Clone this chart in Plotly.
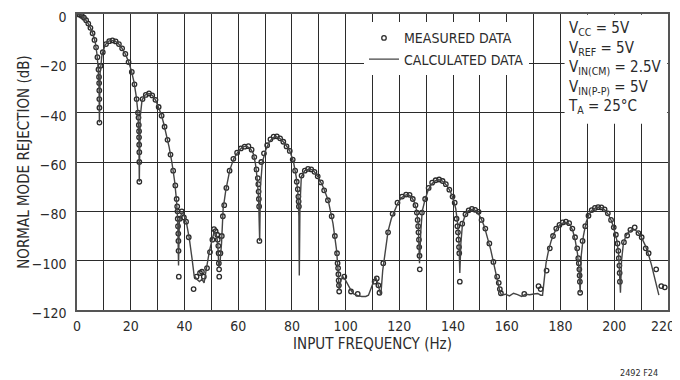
import plotly.graph_objects as go

FONT = "Liberation Sans Narrow, Arial Narrow, DejaVu Sans Condensed, sans-serif"
INK = "#2b2b2b"

# calculated response (Hz, dB), lobe by lobe
calc_freq = [
    0, 1, 2, 3, 4, 5, 6, 6.8, 7.4, 7.9, 8.2, 8.35,
    8.6, 9.3, 10.5, 11.8, 13.0, 14.2, 15.4, 16.6, 17.8, 19.0, 20.2, 21.2, 22.0, 22.6, 23.0, 23.2,
    23.5, 24.2, 25.2, 26.3, 27.3, 28.3, 29.3, 30.3, 31.3, 32.3, 33.3, 34.3, 35.3, 36.3, 37.0, 37.5, 37.8,
    38.1, 39.0, 39.8, 40.8, 41.8, 42.8, 43.6, 44.6, 45.6, 46.5, 47.3, 47.9, 48.6, 49.3, 50.2, 51.0, 51.8, 52.4, 52.8,
    53.3, 53.8, 54.4, 55.4, 56.9, 58.4, 60.0, 61.5, 63.0, 64.5, 65.6, 66.4, 67.1, 67.6, 68.0,
    68.3, 69.0, 70.3, 71.5, 72.8, 74.0, 75.5, 77.3, 79.2, 80.6, 81.6, 82.2, 82.6, 82.75,
    83.0, 83.5, 84.8, 86.6, 87.9, 89.7, 91.6, 93.5, 95.3, 96.6, 97.2, 97.6,
    98.2, 99.0, 100.0, 100.9, 102.0, 103.0, 104.5, 106.0, 107.5, 108.5, 109.5, 110.4, 111.1, 111.8, 112.5, 113.1,
    113.8, 114.6, 115.8, 117.0, 118.3, 119.5, 120.8, 122.0, 123.2, 124.4, 125.5, 126.4, 127.0, 127.5,
    128.0, 128.5, 129.5, 130.7, 131.8, 133.0, 134.2, 135.4, 136.6, 137.8, 139.0, 140.2, 141.0, 141.7, 142.2, 142.5,
    142.9, 143.5, 144.5, 145.6, 146.8, 148.0, 149.2, 150.4, 151.6, 152.8, 154.0, 155.2, 156.4, 157.3, 158.0,
    159.5, 161.0, 162.5, 164.0, 165.5, 167.0, 168.5, 170.0, 171.5, 172.6,
    173.3, 173.9, 174.6, 175.5, 176.5, 177.6, 178.8, 180.0, 181.2, 182.4, 183.6, 184.6, 185.5, 186.3, 186.9, 187.3,
    187.7, 188.5, 189.5, 190.6, 191.8, 193.0, 194.2, 195.4, 196.6, 197.8, 199.0, 200.0, 200.9, 201.6, 202.0, 202.3,
    202.7, 203.4, 204.3, 205.4, 206.6, 207.8, 209.0, 210.2, 211.4, 212.6, 213.8, 215.0, 216.0, 216.6,
]
calc_db = [
    0, -0.3, -1.0, -2.0, -3.6, -5.6, -8.3, -11.5, -16, -22, -30, -44,
    -24, -16.5, -12.5, -11.0, -10.7, -11.0, -12.0, -13.6, -15.8, -18.8, -22.8, -27.5, -33, -39, -48, -68,
    -42, -35, -33, -32.2, -32.3, -33.3, -35, -37.5, -40.5, -44.5, -49, -54, -60, -67.5, -75, -84, -102,
    -84, -80.5, -81.5, -85, -91, -99, -106, -107.5, -108.5, -107.5, -109, -105, -100, -96, -92, -88.5, -89, -93, -103,
    -100, -93, -79, -71.4, -63.2, -58.5, -55.8, -54, -53.5, -54.5, -56.5, -60.5, -67, -75, -92,
    -70, -60, -55, -52, -50.2, -49.7, -50.4, -52.4, -55.5, -60, -66, -72, -82, -106,
    -78, -66, -63.5, -62.8, -63.3, -66, -70, -75.5, -85, -95.5, -104, -112,
    -108, -106.5, -108, -110, -112, -113.5, -114.2, -114.5, -114.5, -114, -111, -108, -106.5, -108.5, -111, -114,
    -104, -97, -88, -83, -79.2, -76.5, -74.5, -73.5, -73.2, -74, -76, -79.5, -85, -101,
    -88, -80, -75.5, -71.5, -69.2, -67.8, -67.2, -67.3, -68.2, -69.8, -72, -75.5, -79, -85, -93, -105,
    -93, -85, -81.5, -79.8, -79.2, -79.4, -80.5, -82.8, -86, -90.5, -95.5, -101.5, -107.5, -112, -114,
    -113.6, -114.3, -113.2, -113.8, -114.5, -113.6, -113.8, -113.5, -113.3, -114,
    -114, -108, -101, -96, -92, -88.8, -86.5, -85.2, -84.6, -84.6, -85.5, -88, -92, -97, -104, -113,
    -98, -90, -84.5, -81.2, -79.5, -78.6, -78.3, -78.6, -79.6, -81.3, -84, -87.5, -91.5, -97, -104, -113,
    -100, -93, -90, -88.3, -87.5, -87.6, -88.7, -90.7, -93.5, -97, -101.5, -106.5, -111, -114,
]

# measured points (Hz, dB)
meas_freq = [
    0.3, 1, 1.8, 2.6, 3.4, 4.2, 5, 5.8, 6.5, 7.1, 7.6, 8.0, 8.2, 8.25, 8.3, 8.3, 8.35, 8.35,
    8.8, 9.6, 10.8, 12.0, 13.2, 14.4, 15.6, 16.8, 18.0, 19.2, 20.4, 21.4, 22.2, 22.7, 22.9, 23.0, 23.1, 23.1, 23.15, 23.2, 23.2, 23.2,
    24.4, 25.6, 26.8, 28, 29.2, 30.4, 31.5, 32.6, 33.7, 34.8, 35.8, 36.6, 37.1, 37.3, 37.4, 37.5, 37.6, 37.7, 37.75, 37.8, 37.9,
    38.3, 39.0, 39.8, 40.6, 41.6, 43.4, 44.5, 45.8, 46.5, 47.2, 48.4, 49.5, 50.4, 51.0, 51.6, 52.2, 52.4, 52.6, 52.7, 52.8, 52.9, 52.95,
    53.4, 53.9, 54.3, 54.8, 55.6, 56.8, 58.2, 59.6, 61.0, 62.4, 63.8, 65.0, 66.0, 66.8, 67.3, 67.5, 67.6, 67.7, 67.8, 67.9,
    68.6, 69.6, 70.8, 72.0, 73.2, 74.4, 75.6, 76.8, 78.0, 79.2, 80.3, 81.2, 81.8, 82.2, 82.4, 82.5, 82.6,
    83.6, 84.8, 86.0, 87.2, 88.4, 89.6, 90.8, 92.0, 93.4, 94.8, 96.0, 96.8, 97.0, 97.2, 97.3, 97.4, 97.5, 97.6,
    99.5, 102, 104.5, 110.8, 111.6, 112.2, 112.6,
    114.0, 115.8, 117.5, 119.3, 121.0, 122.5, 123.8, 125.0, 126.0, 126.5, 126.8, 127.0, 127.1, 127.3, 127.4, 127.5, 127.6,
    128.4, 129.6, 130.9, 132.2, 133.5, 134.8, 136.1, 137.3, 138.6, 139.8, 140.6, 141.3, 141.6, 141.8, 142.0, 142.2, 142.3, 142.5,
    143.4, 144.6, 145.8, 147.0, 148.2, 149.5, 150.6, 152.0, 153.5, 155.0, 156.4, 157.0, 157.4, 157.8, 166.5, 171.8, 172.6,
    174.8, 176.0, 177.2, 178.4, 179.6, 180.8, 182.0, 183.2, 184.4, 185.4, 186.2, 186.6, 186.8, 187.0, 187.1, 187.2, 187.3,
    188.2, 189.2, 190.4, 191.6, 192.8, 194.0, 195.2, 196.4, 197.6, 198.8, 199.8, 200.6, 201.2, 201.5, 201.7, 201.9, 202.0, 202.1,
    203.6, 204.8, 206.0, 207.6, 209.0, 210.2, 211.7, 212.8, 215.6, 217.5, 218.8,
]
meas_db = [
    -0.1, -0.3, -0.8, -1.5, -2.5, -3.9, -5.6, -7.8, -10.5, -13.5, -17.5, -22.5, -25.5, -28, -31, -34.5, -38, -44,
    -21, -15.5, -12.2, -11, -10.7, -11.1, -12.2, -13.9, -16.2, -19.5, -23.5, -28.5, -34.5, -40, -42, -45, -47.5, -50, -53, -56, -60, -68,
    -34.5, -32.8, -32.2, -33, -34.8, -37.7, -41.2, -45.7, -51, -57, -63.5, -69.5, -75, -78, -80, -83, -86, -89, -92, -96, -106.5,
    -83, -80, -82.5, -84.2, -90.5, -111.5, -106.5, -105, -104.5, -106.5, -103, -96.5, -91.5, -87.2, -88, -89.5, -91.5, -94, -97, -101, -103.5, -106.5,
    -97, -90, -82, -77.5, -70.5, -63.5, -58.7, -56.2, -54.5, -53.8, -53.6, -55, -58, -63, -66.5, -69, -72, -75, -78, -92,
    -60, -56.5, -53.2, -50.8, -49.7, -49.6, -50.4, -51.8, -53.7, -55.5, -59, -63.5, -68, -71, -74, -76, -78,
    -65.5, -63.5, -62.8, -63.0, -64, -65.8, -68.3, -71.5, -75.5, -82, -90, -97, -101, -103, -105.5, -108, -110, -112.5,
    -106.5, -112.5, -113.5, -108.5, -107.2, -110, -113,
    -101, -88.5, -81, -76.5, -74, -73.2, -73.3, -75, -77.5, -80.5, -83.5, -86, -88.5, -91.5, -94.5, -98, -103.5,
    -80.5, -75, -70.5, -68.4, -67.4, -67.1, -67.7, -69, -71.2, -74, -76.5, -83, -86, -88.5, -91.5, -94.5, -97, -108.5,
    -85, -81.2, -79.6, -79, -79.4, -80.2, -83.5, -87, -93, -100.5, -106.5, -109, -111.5, -113.2, -113.5, -110.3, -111.5,
    -104, -95, -90, -87, -85.5, -84.5, -84.2, -84.8, -87, -90.5, -95, -99, -101, -103.5, -106, -108.5, -113,
    -92, -86, -81.8, -79.5, -78.6, -78.3, -78.4, -79.2, -80.8, -83.5, -86.5, -89.5, -93, -96, -99, -102, -105, -108.5,
    -92.5, -89.8, -87.5, -86.5, -88.8, -90.5, -95, -97, -103.5, -110.3, -110.8,
]

x_ticks = [0, 20, 40, 60, 80, 100, 120, 140, 160, 180, 200, 220]
y_ticks = [0, -20, -40, -60, -80, -100, -120]
y_ticktext = ["0" if v == 0 else "\u2212" + str(-v) for v in y_ticks]

conditions = [
    "V<sub>CC</sub> = 5V",
    "V<sub>REF</sub> = 5V",
    "V<sub>IN(CM)</sub> = 2.5V",
    "V<sub>IN(P-P)</sub> = 5V",
    "T<sub>A</sub> = 25°C",
]

fig = go.Figure()

fig.add_trace(go.Scatter(
    x=meas_freq, y=meas_db, mode="markers", name="MEASURED DATA",
    marker=dict(symbol="circle-open", size=4.5, color=INK, line=dict(width=1.3)),
))
fig.add_trace(go.Scatter(
    x=calc_freq, y=calc_db, mode="lines", name="CALCULATED DATA",
    line=dict(color="#444444", width=1.4),
))

# white box behind the test conditions
fig.add_shape(type="rect", xref="x", yref="y", x0=181.5, x1=219.7, y0=-44.5, y1=-0.3,
              fillcolor="white", line_width=0, layer="between")

fig.add_annotation(
    xref="x", yref="paper", x=182.2, y=0.99, xanchor="left", yanchor="top",
    text="<br>".join(conditions), align="left", showarrow=False,
    font=dict(family=FONT, size=15, color=INK),
)
fig.add_annotation(
    xref="paper", yref="paper", x=-0.090, y=0.5, xanchor="center", yanchor="middle",
    text="NORMAL MODE REJECTION (dB)", textangle=-90, showarrow=False,
    font=dict(family=FONT, size=15, color=INK),
)
# last x tick label sits flush with the right edge of the page
fig.add_annotation(
    xref="x", yref="paper", x=x_ticks[-1], y=-0.054, xanchor="right", yanchor="middle", xshift=9,
    text=str(x_ticks[-1]), showarrow=False, font=dict(family=FONT, size=14, color=INK),
)
fig.add_annotation(
    xref="paper", yref="paper", x=0.986, y=-0.213, xanchor="right", yanchor="middle",
    text="2492 F24", showarrow=False, font=dict(family=FONT, size=9, color=INK),
)

fig.update_xaxes(
    range=[0, 220], tickvals=x_ticks[:-1], ticks="", ticklabelstandoff=2, automargin=False,
    showgrid=True, gridcolor=INK, gridwidth=1,
    minor=dict(dtick=10, showgrid=True, gridcolor=INK, gridwidth=1),
    showline=True, linecolor="#555555", linewidth=1.5, mirror=True, zeroline=False,
    title=dict(text="INPUT FREQUENCY (Hz)", standoff=6, font=dict(family=FONT, size=15, color=INK)),
    tickfont=dict(family=FONT, size=14, color=INK),
)
fig.update_yaxes(
    range=[-120, 0], tickvals=y_ticks, ticktext=y_ticktext, ticks="", ticklabelstandoff=6, automargin=False,
    ticklabelshift=3, ticklabeloverflow="allow",
    showgrid=True, gridcolor=INK, gridwidth=1,
    showline=True, linecolor="#555555", linewidth=1.5, mirror=True, zeroline=False,
    tickfont=dict(family=FONT, size=14, color=INK),
)

# the page adds an 8 px body margin, so the figure is 8 px smaller than the window
fig.update_layout(
    width=672, height=372,
    margin=dict(l=69, r=12, t=6, b=70),
    paper_bgcolor="white", plot_bgcolor="white",
    showlegend=True,
    legend=dict(
        x=0.4856, y=0.972, xanchor="left", yanchor="top",
        bgcolor="white", borderwidth=0, itemwidth=30,
        font=dict(family=FONT, size=14, color=INK),
        tracegroupgap=0,
    ),
)

fig.write_html("out.html")
